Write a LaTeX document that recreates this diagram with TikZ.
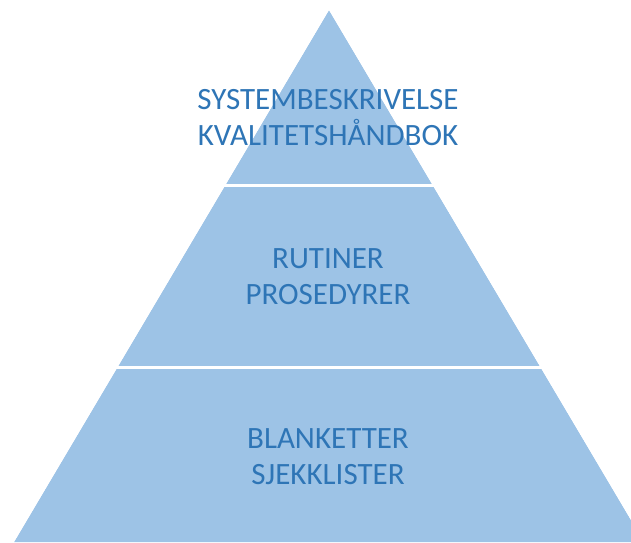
\documentclass[tikz,border=0pt]{standalone}
\usepackage{fontspec}
\setmainfont{Carlito}
\definecolor{pyrfill}{HTML}{9DC3E6}
\definecolor{pyrtext}{HTML}{2E75B6}
\begin{document}
\begin{tikzpicture}[x=1pt,y=-1pt,
  label/.style={text=pyrtext,align=center,font=\fontsize{31}{36}\selectfont},
  sep/.style={white,line width=3pt}]
\useasboundingbox (0,0) rectangle (631,542);
\coordinate (apex) at (329,10);
\coordinate (bl) at (14,542);
\coordinate (br) at (644,542);
\clip (0,0) rectangle (631,542);
\fill[pyrfill] (apex) -- (bl) -- (br) -- cycle;
\draw[sep] (0,185) -- (631,185);
\draw[sep] (0,367) -- (631,367);
\fill[white] (apex) -- (bl) -- (-50,542) -- (-50,0) -- (329,0) -- cycle;
\fill[white] (apex) -- (br) -- (700,542) -- (700,0) -- (329,0) -- cycle;
\node[label] (t1) at (328,118) {SYSTEMBESKRIVELSE\\KVALITETSHÅNDBOK};
\node[label] (t2) at (328,277) {RUTINER\\PROSEDYRER};
\node[label] (t3) at (328,457) {BLANKETTER\\SJEKKLISTER};
\end{tikzpicture}
\end{document}
